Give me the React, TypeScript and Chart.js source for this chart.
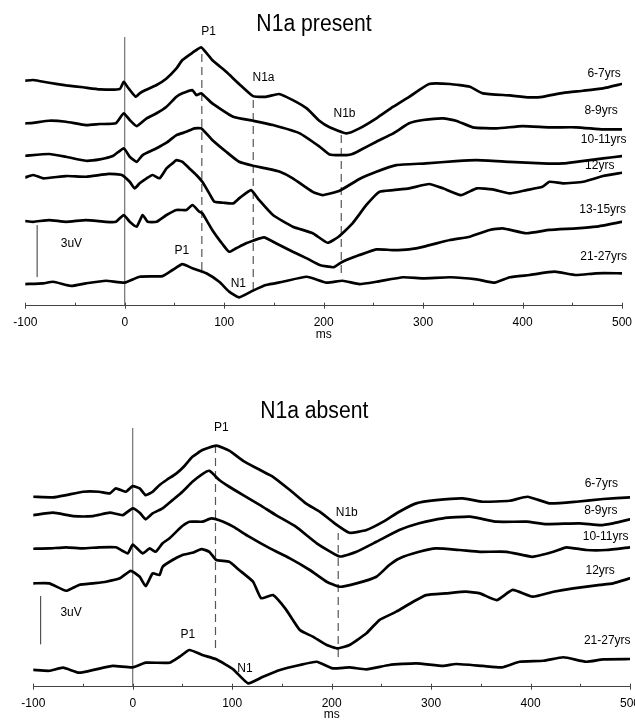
import { useEffect, useRef } from "react";
import { Chart, registerables } from "chart.js";

Chart.register(...registerables);

type Pt = [number, number];
type Mark = [string, number, number];
type VSeg = [number, number, number];

const FAMILY = "'Liberation Sans', Arial, Helvetica, sans-serif";
const X_MIN = -100;
const X_MAX = 500;
const X_TICK_STEP = 100;
const X_MINOR_STEP = 50;

// ---------------- Panel 1: N1a present (ms, µV incl. stacking offset) ----------------
const presentTitle = "N1a present";
const presentAges = ["6-7yrs", "8-9yrs", "10-11yrs", "12yrs", "13-15yrs", "21-27yrs"];

const present6to7: Pt[] = [[-100,12.98],[-92,13.02],[-76,12.86],[-59,12.71],[-42,12.60],[-25,12.48],[-5,12.50],[-1,12.92],[3,12.60],[11,12.05],[15,12.25],[21,12.44],[32,12.73],[42,13.11],[52,13.69],[58,14.17],[68,14.59],[77,14.90],[88,14.17],[102,13.49],[115,12.79],[129,12.09],[142,12.05],[155,12.21],[169,11.86],[183,11.38],[196,10.65],[206,10.29],[223,9.94],[236,10.23],[253,10.81],[270,11.48],[286,12.05],[306,12.79],[327,12.79],[347,12.63],[360,12.25],[387,12.13],[407,12.02],[420,12.05],[441,12.28],[461,12.40],[481,12.54],[500,12.79]];
const present8to9: Pt[] = [[-100,10.52],[-92,10.55],[-76,10.67],[-59,10.61],[-39,10.42],[-25,10.48],[-9,10.52],[-1,11.10],[5,10.71],[12,10.36],[22,10.81],[32,11.10],[42,11.48],[52,12.05],[58,12.25],[68,12.44],[72,12.15],[77,12.25],[88,11.67],[109,10.90],[129,10.67],[149,10.42],[176,9.94],[196,9.17],[206,8.72],[223,8.69],[229,8.75],[237,8.98],[253,9.46],[270,9.94],[286,10.52],[300,10.71],[320,10.81],[333,10.67],[350,10.29],[374,10.23],[400,10.36],[427,10.29],[454,10.29],[481,10.17],[500,10.17]];
const present10to11: Pt[] = [[-100,8.65],[-76,8.75],[-59,8.59],[-39,8.36],[-25,8.44],[-12,8.63],[-1,9.08],[5,8.59],[12,8.30],[18,8.69],[32,9.08],[42,9.40],[52,9.84],[62,10.03],[70,10.23],[77,10.23],[88,9.56],[102,8.88],[115,8.30],[129,8.07],[142,7.92],[156,7.73],[169,7.35],[189,6.57],[199,6.38],[216,6.63],[236,7.31],[253,7.73],[273,8.11],[303,8.21],[333,8.34],[354,8.40],[387,8.30],[420,8.21],[441,8.21],[454,8.30],[481,8.50],[500,8.63]];
const present12: Pt[] = [[-100,7.40],[-92,7.54],[-82,7.35],[-59,7.48],[-39,7.44],[-16,7.60],[-3,7.54],[5,7.15],[10,6.77],[15,7.06],[22,7.35],[28,7.54],[35,7.35],[42,7.92],[48,8.21],[52,8.40],[58,8.30],[65,7.92],[72,7.54],[78,7.15],[85,6.48],[90,6.00],[99,5.94],[109,5.90],[115,6.19],[127,6.67],[135,6.10],[149,5.23],[169,4.56],[189,4.18],[204,3.63],[215,3.98],[229,4.75],[243,5.81],[256,6.57],[270,6.67],[286,6.77],[306,7.02],[320,6.77],[338,6.38],[354,6.77],[370,6.71],[387,6.48],[404,6.67],[420,6.86],[427,7.15],[441,7.06],[461,7.15],[481,7.48],[500,7.67]];
const present13to15: Pt[] = [[-100,4.88],[-92,4.84],[-76,4.94],[-59,4.84],[-39,4.94],[-19,4.84],[-9,4.84],[-1,5.23],[5,4.84],[12,4.56],[18,5.23],[23,4.84],[32,4.84],[42,5.23],[52,5.52],[62,5.52],[68,5.81],[75,5.42],[78,5.33],[88,4.37],[99,3.50],[105,3.11],[112,3.31],[122,3.60],[129,3.75],[140,3.94],[152,3.60],[169,3.11],[183,2.73],[196,2.35],[210,2.22],[219,2.54],[236,2.92],[253,3.25],[270,3.21],[286,3.25],[303,3.44],[327,3.79],[347,3.98],[367,4.37],[380,4.46],[404,4.18],[427,4.37],[454,4.46],[474,4.56],[500,4.84]];
const present21to27: Pt[] = [[-100,1.25],[-82,1.29],[-72,1.38],[-54,1.14],[-39,1.29],[-19,1.44],[0,1.33],[15,1.67],[38,1.71],[48,2.06],[58,2.40],[68,2.16],[82,1.87],[95,1.38],[105,0.81],[115,0.48],[129,0.87],[142,1.19],[159,1.38],[183,1.67],[203,1.33],[219,1.44],[236,1.25],[253,1.38],[280,1.64],[300,1.58],[327,1.64],[354,1.52],[372,1.33],[387,1.64],[407,1.77],[432,1.96],[454,1.77],[474,1.87],[500,1.87]];
const presentSeries = [present6to7, present8to9, present10to11, present12, present13to15, present21to27];

const presentComponentLabels: Mark[] = [["P1", 84.4, 15.79], ["N1a", 139.5, 13.16], ["N1b", 221, 11.06], ["P1", 57.3, 3.17], ["N1", 114.2, 1.29]];
const presentAgeLabelAt: Pt[] = [[482, 13.36], [479, 11.24], [481.6, 9.56], [477.6, 8.06], [480.6, 5.56], [481.6, 2.83]];
const presentLatencyMarkers: VSeg[] = [[77.5, 2.06, 14.57], [129.2, 0.91, 12.04], [217.7, 1.89, 10.02]];
const presentScaleBar: VSeg = [-88.1, 1.65, 4.65];

// ---------------- Panel 2: N1a absent ----------------
const absentTitle = "N1a absent";
const absentAges = ["6-7yrs", "8-9yrs", "10-11yrs", "12yrs", "21-27yrs"];

const absent6to7: Pt[] = [[-100,11.80],[-80,11.76],[-67,11.90],[-50,12.11],[-34,12.11],[-23,12.01],[-17,12.32],[-7,12.11],[0,12.46],[7,12.32],[13,11.90],[20,12.11],[27,12.53],[34,12.84],[44,13.25],[52,13.71],[60,14.28],[70,14.70],[84,14.97],[97,14.66],[111,14.03],[128,13.46],[141,13.04],[158,12.22],[174,11.39],[188,10.87],[203,10.15],[218,9.56],[235,9.73],[252,10.25],[268,10.87],[285,11.39],[305,11.59],[332,11.70],[352,11.49],[379,11.55],[397,11.80],[419,11.39],[446,11.49],[473,11.66],[500,11.76]];
const absent8to9: Pt[] = [[-100,10.66],[-80,10.81],[-60,10.60],[-40,10.60],[-23,10.81],[-10,10.66],[0,11.08],[7,10.81],[13,10.40],[20,10.77],[30,11.08],[40,11.59],[50,12.11],[60,12.73],[70,13.21],[77,13.41],[87,12.84],[97,12.42],[111,11.90],[128,11.28],[144,10.66],[164,9.94],[185,8.91],[208,8.09],[225,8.38],[245,9.00],[268,9.73],[288,10.15],[312,10.46],[339,10.56],[366,10.25],[396,10.25],[416,10.10],[449,10.15],[470,10.04],[483,10.15],[500,10.40]];
const absent10to11: Pt[] = [[-100,8.57],[-84,8.59],[-67,8.66],[-50,8.59],[-34,8.66],[-17,8.66],[-5,8.28],[0,8.82],[10,8.28],[17,8.59],[23,8.38],[30,8.91],[37,9.22],[49,9.94],[57,10.25],[70,10.25],[79,10.46],[91,10.25],[101,9.94],[117,9.32],[138,8.59],[158,7.97],[178,7.25],[195,6.52],[208,6.21],[225,6.42],[245,6.83],[258,7.56],[268,7.97],[288,8.38],[305,8.59],[329,8.49],[349,8.38],[376,8.38],[402,8.07],[423,8.38],[436,8.66],[456,8.49],[476,8.49],[500,8.66]];
const absent12: Pt[] = [[-100,6.42],[-84,6.42],[-67,5.96],[-54,6.32],[-40,6.42],[-27,6.52],[-13,6.73],[-2,7.20],[7,6.83],[13,6.25],[20,7.04],[27,6.94],[30,7.45],[40,7.87],[50,8.18],[60,8.32],[69,8.55],[77,8.38],[84,7.87],[97,7.76],[107,7.25],[121,6.52],[129,5.50],[141,5.69],[154,4.80],[168,3.52],[181,3.11],[195,2.59],[206,2.38],[218,2.59],[235,3.32],[248,4.14],[265,4.66],[282,5.28],[295,5.69],[315,5.80],[335,5.90],[349,5.80],[366,5.38],[382,6.01],[402,5.59],[423,5.90],[443,6.11],[470,6.32],[483,6.42],[500,6.73]];
const absent21to27: Pt[] = [[-100,1.04],[-84,0.99],[-70,1.18],[-54,0.87],[-37,1.08],[-20,1.29],[0,1.20],[13,1.49],[37,1.49],[47,1.86],[57,2.28],[70,1.97],[84,1.70],[101,1.08],[116,0.21],[131,0.62],[148,1.04],[168,1.35],[185,1.55],[201,1.14],[218,1.20],[235,1.08],[258,1.35],[285,1.45],[312,1.29],[325,1.41],[352,1.29],[371,1.20],[389,1.55],[413,1.61],[433,1.83],[456,1.55],[473,1.70],[500,1.72]];
const absentSeries = [absent6to7, absent8to9, absent10to11, absent12, absent21to27];

const absentComponentLabels: Mark[] = [["P1", 89.2, 16.10], ["N1b", 215.2, 10.82], ["P1", 55.3, 3.21], ["N1", 112.9, 1.14]];
const absentAgeLabelAt: Pt[] = [[471.2, 12.63], [470.7, 10.94], [475.5, 9.32], [470, 7.20], [477.1, 2.85]];
const absentLatencyMarkers: VSeg[] = [[83.2, 2.40, 14.89], [206.6, 1.84, 9.54]];
const absentScaleBar: VSeg = [-92.6, 2.63, 5.63];

const SCALE_LABEL = "3uV";

interface PanelSpec {
  title: string;
  titleAt: Pt;
  ages: string[];
  ageAt: Pt[];
  series: Pt[][];
  marks: Mark[];
  markers: VSeg[];
  bar: VSeg;
  barLabelAt: Pt;
  yMax: number;
  pad: { left: number; right: number; top: number };
  axisHeight: number;
  msPad: number;
}

const presentSpec: PanelSpec = {
  title: presentTitle,
  titleAt: [190.3, 16.19],
  ages: presentAges,
  ageAt: presentAgeLabelAt,
  series: presentSeries,
  marks: presentComponentLabels,
  markers: presentLatencyMarkers,
  bar: presentScaleBar,
  barLabelAt: [-53.6, 3.56],
  yMax: 15.5,
  pad: { left: 25.3, right: 13, top: 37 },
  axisHeight: 54.3,
  msPad: 17.8,
};

const absentSpec: PanelSpec = {
  title: absentTitle,
  titleAt: [182.5, 17.1],
  ages: absentAges,
  ageAt: absentAgeLabelAt,
  series: absentSeries,
  marks: absentComponentLabels,
  markers: absentLatencyMarkers,
  bar: absentScaleBar,
  barLabelAt: [-62, 4.61],
  yMax: 16.07,
  pad: { left: 33.3, right: 5, top: 68 },
  axisHeight: 43.3,
  msPad: 7.8,
};

function buildChart(canvas: HTMLCanvasElement, spec: PanelSpec) {
  const toXY = (pts: Pt[]) => pts.map(([x, y]) => ({ x, y }));
  const datasets: any[] = [];
  spec.series.forEach((s, i) =>
    datasets.push({
      label: spec.ages[i],
      data: toXY(s),
      borderColor: "#000",
      borderWidth: 2.7,
      pointRadius: 0,
      tension: 0.15,
      borderJoinStyle: "round",
      borderCapStyle: "round",
      fill: false,
    })
  );
  datasets.push({
    label: "stimulus onset",
    data: [{ x: 0, y: 0 }, { x: 0, y: spec.yMax }],
    borderColor: "#555",
    borderWidth: 1,
    pointRadius: 0,
  });
  spec.markers.forEach(([x, y1, y2]) =>
    datasets.push({
      label: "latency",
      data: [{ x, y: y1 }, { x, y: y2 }],
      borderColor: "#555",
      borderWidth: 1.2,
      borderDash: [8, 5],
      pointRadius: 0,
    })
  );
  const [bx, by1, by2] = spec.bar;
  datasets.push({
    label: "scale",
    data: [{ x: bx, y: by1 }, { x: bx, y: by2 }],
    borderColor: "#333",
    borderWidth: 1,
    pointRadius: 0,
  });

  const overlay = {
    id: "overlay",
    afterDraw(chart: any) {
      const { ctx } = chart;
      const xs = chart.scales.x;
      const ys = chart.scales.y;
      const X = (v: number) => xs.getPixelForValue(v);
      const Y = (v: number) => ys.getPixelForValue(v);
      ctx.save();
      const base = chart.chartArea.bottom;
      ctx.strokeStyle = "#444";
      ctx.lineWidth = 1;
      for (let t = X_MIN; t <= X_MAX; t += X_MINOR_STEP) {
        const px = Math.round(X(t)) + 0.5;
        const major = t % X_TICK_STEP === 0;
        ctx.beginPath();
        ctx.moveTo(px, base - 3);
        ctx.lineTo(px, major ? base + 3 : base);
        ctx.stroke();
      }
      ctx.fillStyle = "#000";
      ctx.textAlign = "center";
      ctx.textBaseline = "middle";
      ctx.font = `12px ${FAMILY}`;
      spec.marks.forEach(([txt, x, y]) => ctx.fillText(txt, X(x), Y(y)));
      spec.ages.forEach((txt, i) => ctx.fillText(txt, X(spec.ageAt[i][0]), Y(spec.ageAt[i][1])));
      ctx.fillText(SCALE_LABEL, X(spec.barLabelAt[0]), Y(spec.barLabelAt[1]));
      ctx.translate(X(spec.titleAt[0]), Y(spec.titleAt[1]));
      ctx.scale(0.92, 1);
      ctx.font = `23px ${FAMILY}`;
      ctx.fillText(spec.title, 0, 0);
      ctx.restore();
    },
  };

  return new Chart(canvas, {
    type: "line",
    data: { datasets },
    options: {
      animation: false,
      responsive: false,
      events: [],
      layout: { autoPadding: false, padding: { ...spec.pad, bottom: 0 } },
      plugins: { legend: { display: false }, tooltip: { enabled: false }, title: { display: false } },
      scales: {
        x: {
          type: "linear",
          min: X_MIN,
          max: X_MAX,
          afterFit: (s: any) => {
            s.height = spec.axisHeight;
            s.paddingLeft = 0;
            s.paddingRight = 0;
            s.paddingTop = 0;
            s.paddingBottom = 0;
          },
          border: { display: true, color: "#444", width: 1 },
          grid: { display: true, drawOnChartArea: false, drawTicks: false },
          ticks: {
            stepSize: X_TICK_STEP,
            padding: 9.5,
            color: "#000",
            autoSkip: false,
            maxRotation: 0,
            font: { family: FAMILY, size: 12 },
          },
          title: {
            display: true,
            text: "ms",
            color: "#000",
            font: { family: FAMILY, size: 12 },
            padding: { top: 0, bottom: spec.msPad },
          },
        },
        y: {
          display: false,
          min: 0,
          max: spec.yMax,
          afterFit: (s: any) => {
            s.width = 0;
            s.paddingTop = 0;
            s.paddingBottom = 0;
          },
        },
      },
    } as any,
    plugins: [overlay],
  });
}

export default function App() {
  const topRef = useRef<HTMLCanvasElement>(null);
  const botRef = useRef<HTMLCanvasElement>(null);
  useEffect(() => {
    const a = buildChart(topRef.current!, presentSpec);
    const b = buildChart(botRef.current!, absentSpec);
    return () => {
      a.destroy();
      b.destroy();
    };
  }, []);
  return (
    <div style={{ position: "absolute", left: 0, top: 0, width: 635, height: 720, overflow: "hidden", background: "#fff" }}>
      <canvas ref={topRef} width={635} height={360} style={{ position: "absolute", left: 0, top: 0, display: "block" }} />
      <canvas ref={botRef} width={635} height={370} style={{ position: "absolute", left: 0, top: 360, display: "block" }} />
    </div>
  );
}
